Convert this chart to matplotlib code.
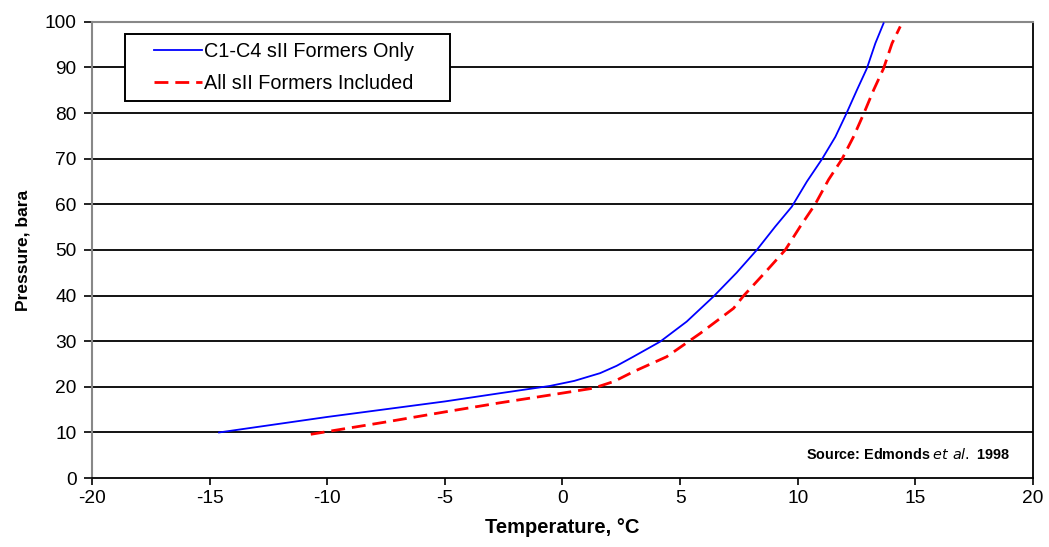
import matplotlib.pyplot as plt
from matplotlib.legend_handler import HandlerLine2D

plt.rcParams["font.family"] = ["Liberation Sans", "DejaVu Sans"]
plt.rcParams["axes.unicode_minus"] = False

# hydrate curves (temperature degC, pressure bara)
c1c4_t = [-14.6, -10.0, -5.0, -2.66, -0.53, 0.5, 1.6, 2.3, 3.01, 4.15, 5.28, 6.42,
          7.4, 8.26, 9.04, 9.75, 10.39, 11.03, 11.6, 12.06, 12.52, 12.94, 13.3, 13.65]
c1c4_p = [10.0, 13.4, 16.8, 18.6, 20.2, 21.3, 23.0, 24.6, 26.6, 29.9, 34.3, 39.8,
          45.0, 50.0, 55.1, 59.5, 65.0, 69.9, 74.8, 79.8, 85.1, 89.8, 95.3, 99.7]

all_t = [-10.7, -7.5, -5.0, -2.66, -0.53, 1.31, 2.2, 3.01, 4.43, 5.85, 7.27, 7.69,
         8.6, 9.47, 10.1, 10.74, 11.31, 11.88, 12.37, 12.8, 13.23, 13.65, 14.01, 14.36]
all_p = [9.6, 12.3, 14.5, 16.5, 18.2, 19.7, 21.2, 23.3, 26.6, 31.7, 37.2, 39.9,
         45.0, 50.0, 55.1, 60.0, 65.4, 69.9, 74.8, 79.8, 85.1, 89.8, 95.3, 99.0]

x_ticks = [-20, -15, -10, -5, 0, 5, 10, 15, 20]
y_ticks = [0, 10, 20, 30, 40, 50, 60, 70, 80, 90, 100]

fig = plt.figure(figsize=(10.49, 5.47), dpi=100)
ax = fig.add_axes([0.0877, 0.126, 0.897, 0.834])

for y in y_ticks[1:-1]:
    ax.axhline(y, color="black", lw=1.3, zorder=1)

ax.plot(c1c4_t, c1c4_p, color="blue", lw=1.3, label="C1-C4 sII Formers Only     ", zorder=3)
ax.plot(all_t, all_p, color="red", lw=2.0, ls=(0, (5, 2.5)),
        label="All sII Formers Included     ", zorder=3)

ax.set_xlim(-20, 20)
ax.set_ylim(0, 100)
ax.set_xticks(x_ticks)
ax.set_yticks(y_ticks)
ax.tick_params(direction="out", length=5, width=1.2, labelsize=13.8, colors="black")
ax.tick_params(axis="y", length=6, pad=5)
for side in ("left", "top"):
    ax.spines[side].set_color("#888888")
    ax.spines[side].set_linewidth(1.5)
for side in ("bottom", "right"):
    ax.spines[side].set_color("black")
    ax.spines[side].set_linewidth(1.3)

ax.set_xlabel("Temperature, \u00b0C", fontsize=14.5, fontweight="bold", labelpad=8)
ax.set_ylabel("Pressure, bara", fontsize=12.5, fontweight="bold", labelpad=10)

# wide side padding like the original legend box
pad_handler = HandlerLine2D(numpoints=2, marker_pad=1.05)
leg = ax.legend(loc="upper left", bbox_to_anchor=(0.035, 0.974), fontsize=14.3,
                fancybox=False, framealpha=1, edgecolor="black", handlelength=4.55,
                handletextpad=-0.95, borderpad=0.4, labelspacing=0.68,
                handler_map={plt.Line2D: pad_handler}, borderaxespad=0)
leg.get_frame().set_linewidth(1.4)

ax.text(0.976, 0.035, "Source: Edmonds $\\it{et\\ al.}$ 1998", transform=ax.transAxes,
        ha="right", va="bottom", fontsize=10.4, fontweight="bold")

fig.savefig("out.png", dpi=100)
